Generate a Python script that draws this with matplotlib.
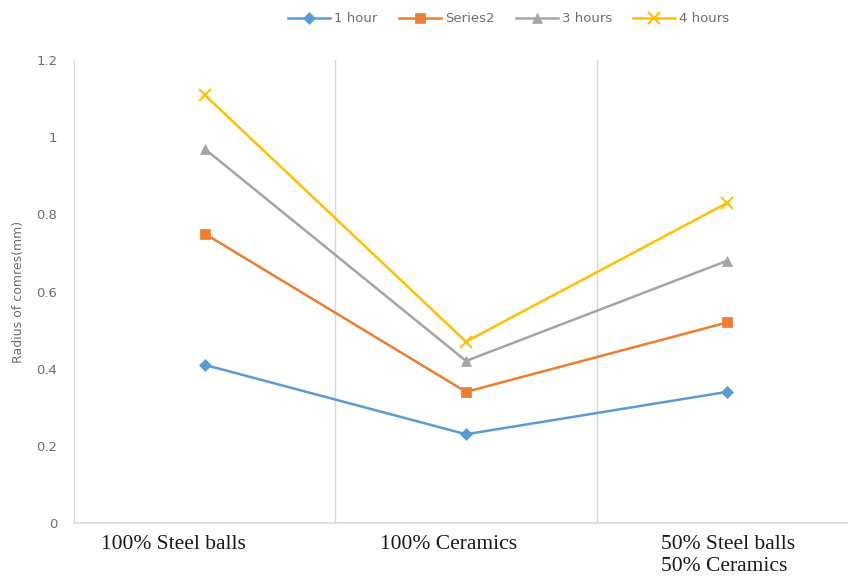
import matplotlib
matplotlib.use("Agg")
import matplotlib.pyplot as plt
import matplotlib.transforms as mtransforms

categories = ["100% Steel balls", "100% Ceramics", "50% Steel balls\n50% Ceramics"]
series_names = ["1 hour", "Series2", "3 hours", "4 hours"]
hour1 = [0.41, 0.23, 0.34]
series2 = [0.75, 0.34, 0.52]
hours3 = [0.97, 0.42, 0.68]
hours4 = [1.11, 0.47, 0.83]
y_ticks = [0, 0.2, 0.4, 0.6, 0.8, 1, 1.2]
y_tick_labels = ["0", "0.2", "0.4", "0.6", "0.8", "1", "1.2"]

colors = ["#5B9BD5", "#ED7D31", "#A5A5A5", "#FFC000"]
markers = ["D", "s", "^", "x"]
msizes = [6, 7, 7, 9]

fig = plt.figure(figsize=(8.48, 5.84), dpi=100)
ax = fig.add_axes([0.0873, 0.1045, 0.9245, 0.7925])

x = list(range(len(categories)))
for vals, name, c, m, ms in zip([hour1, series2, hours3, hours4], series_names, colors, markers, msizes):
    ax.plot(x, vals, color=c, lw=1.8, marker=m, markersize=ms, label=name,
            markeredgewidth=1.5 if m == "x" else 0.5)

ax.set_xlim(-0.5, 2.5)
ax.set_ylim(0, 1.2)
ax.set_yticks(y_ticks)
ax.set_yticklabels(y_tick_labels, color="#6e6e6e", fontsize=9.5)
ax.tick_params(axis="y", length=0, pad=12)

# category separators
for b in [0.5, 1.5]:
    ax.axvline(b, color="#d9d9d9", lw=1, zorder=0)

for s in ["top", "right"]:
    ax.spines[s].set_visible(False)
ax.spines["left"].set_color("#d9d9d9")
ax.spines["bottom"].set_color("#d9d9d9")
ax.spines["bottom"].set_linewidth(1.2)

ax.set_xticks(x)
ax.set_xticklabels(categories, fontsize=15.5, family="Liberation Serif", color="#1a1a1a",
                   linespacing=1.15, va="top")
ax.tick_params(axis="x", length=0, pad=9)
shifts = [-31, -17, -66]
for lbl, dx in zip(ax.get_xticklabels(), shifts):
    lbl.set_transform(lbl.get_transform() + mtransforms.ScaledTranslation(dx / 100, 0, fig.dpi_scale_trans))
last = ax.get_xticklabels()[2]
last.set_ha("left")
last.set_multialignment("left")

ax.set_ylabel("Radius of comres(mm)", fontsize=9, color="#6e6e6e", labelpad=8)

leg = ax.legend(loc="center", ncol=4, frameon=False,
                fontsize=9.5, handlelength=3.2, columnspacing=1.6, handletextpad=0.3)
leg.set_bbox_to_anchor((0.6, 0.968), transform=fig.transFigure)
for t in leg.get_texts():
    t.set_color("#6e6e6e")

fig.savefig("out.png", dpi=100)
